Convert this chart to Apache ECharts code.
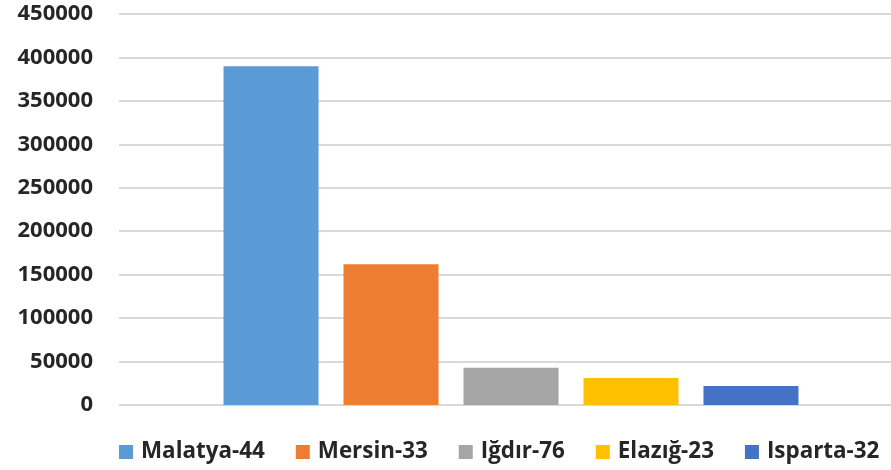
<!DOCTYPE html>
<html><head><meta charset="utf-8">
<script src="https://cdn.jsdelivr.net/npm/echarts@6/dist/echarts.min.js"></script>
<style>html,body{margin:0;padding:0;background:#fff}#c{width:891px;height:470px}</style>
</head><body><div id="c"></div>
<script>
const seriesNames = ["Malatya-44", "Mersin-33", "Iğdır-76", "Elazığ-23", "Isparta-32"];
const seriesValues = [390000, 162000, 43000, 31000, 22000];
const colors = ["#5b9bd5", "#ed7d31", "#a5a5a5", "#ffc000", "#4472c4"];
const yTicks = [0, 50000, 100000, 150000, 200000, 250000, 300000, 350000, 400000, 450000];

const chart = echarts.init(document.getElementById('c'), null, {renderer: 'canvas'});
const font = "'Open Sans', 'Noto Sans', sans-serif";
const yMin = yTicks[0], yMax = yTicks[yTicks.length-1];
chart.setOption({
  animation: false,
  backgroundColor: '#ffffff',
  grid: [
    {left: 119, right: 0, top: 14, bottom: 65, containLabel: false},
    {left: 131, right: 0, top: 14, bottom: 65, containLabel: false}
  ],
  legend: {
    data: seriesNames,
    left: 119, top: 441, padding: 0,
    itemWidth: 14, itemHeight: 14, itemGap: 31,
    icon: 'rect',
    textStyle: {fontFamily: font, fontWeight: 'bold', fontSize: 22.4, color: '#262626', padding: [0,0,0,3]}
  },
  xAxis: [
    {gridIndex: 0, type: 'category', data: [''], show: false},
    {gridIndex: 1, type: 'category', data: [''],
     axisLine: {show: false}, axisTick: {show: false}, axisLabel: {show: false}}
  ],
  yAxis: [
    {gridIndex: 0, type: 'value', min: yMin, max: yMax, interval: 50000,
     axisLine: {show: false}, axisTick: {show: false},
     axisLabel: {margin: 26, fontFamily: font, fontWeight: 'bold', fontSize: 22, color: '#262626',
       formatter: v => String(v)},
     splitLine: {lineStyle: {color: '#d9d9d9', width: 2}}},
    {gridIndex: 1, type: 'value', min: yMin, max: yMax, interval: 50000,
     axisLine: {show: false}, axisTick: {show: false}, axisLabel: {show: false},
     splitLine: {show: false}}
  ],
  series: seriesNames.map((n, i) => ({
    name: n, type: 'bar', data: [seriesValues[i]],
    xAxisIndex: 1, yAxisIndex: 1,
    barWidth: 95, barGap: '26.3%',
    itemStyle: {color: colors[i]}
  }))
});
</script></body></html>
